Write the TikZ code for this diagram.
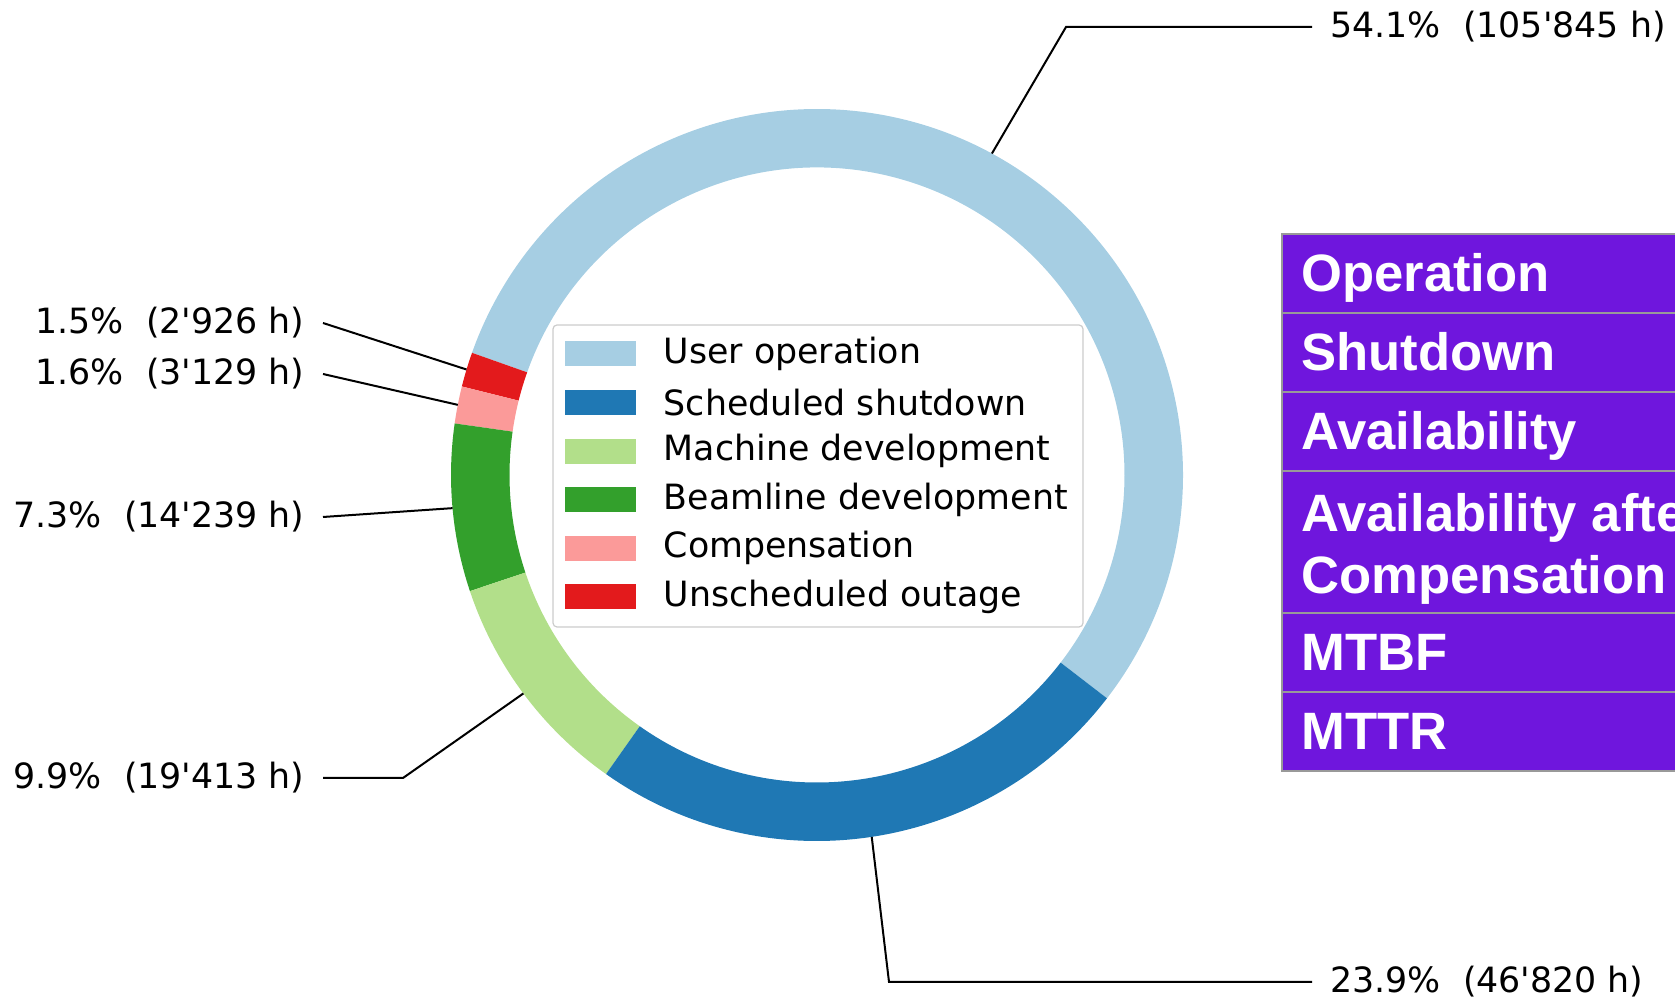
\documentclass[tikz,border=0pt]{standalone}
\usepackage{fontspec}
\usetikzlibrary{positioning}
\newfontfamily\lblfont{DejaVu Sans}[Ligatures=TeXOff]
\newfontfamily\tabfont{Liberation Sans}[Ligatures=TeXOff]
\definecolor{useop}{RGB}{166,206,227}
\definecolor{shutdn}{RGB}{31,120,180}
\definecolor{machdev}{RGB}{178,223,138}
\definecolor{beamdev}{RGB}{51,160,44}
\definecolor{comp}{RGB}{251,154,153}
\definecolor{outage}{RGB}{227,26,28}
\definecolor{tabpurple}{RGB}{111,22,221}
\tikzset{
  pctlabel/.style={font=\lblfont\fontsize{17.4}{21}\selectfont, inner xsep=9pt, inner ysep=2pt},
  leader/.style={line width=1pt, black},
  legbox/.style={draw=black!20, line width=0.6pt, rounded corners=2pt, fill=white},
  legpatch/.style={minimum width=35.5pt, minimum height=12.5pt, inner sep=0pt},
  legtext/.style={font=\lblfont\fontsize{17.4}{21}\selectfont, anchor=west, inner sep=0pt},
  tabrow/.style={fill=tabpurple, draw=black!40, line width=1pt},
  tabtext/.style={font=\tabfont\bfseries\fontsize{26.3}{31}\selectfont, text=white, anchor=base west, inner sep=0pt}
}

\begin{document}
\begin{tikzpicture}[x=0.5pt, y=0.5pt]
    \useasboundingbox (0,0) rectangle (1675,1000);
    \clip (0,0) rectangle (1675,1000);

    % ring
    \begin{scope}[shift={(817,525)}]
        \foreach \a/\b/\c in {-37.6/160.5/useop, 160.5/166.0/outage, 166.0/171.9/comp,
                              171.9/198.5/beamdev, 198.5/234.8/machdev, 234.8/322.4/shutdn}
            \fill[\c] (\a:366) arc[start angle=\a, end angle=\b, radius=366]
                -- (\b:307.5) arc[start angle=\b, end angle=\a, radius=307.5] -- cycle;
        \coordinate (pUse) at (61.45:366);
        \coordinate (pOut) at (163.25:366);
        \coordinate (pComp) at (168.95:366);
        \coordinate (pBeam) at (185.2:366);
        \coordinate (pMach) at (216.65:366);
        \coordinate (pShut) at (278.6:366);
    \end{scope}

    % labels
    \node[pctlabel, anchor=west] (lUse) at (1312,973) {54.1\%\ \ (105'845 h)};
    \node[pctlabel, anchor=east] (lOut) at (323,677) {1.5\%\ \ (2'926 h)};
    \node[pctlabel, anchor=east] (lComp) at (323,626) {1.6\%\ \ (3'129 h)};
    \node[pctlabel, anchor=east] (lBeam) at (323,483) {7.3\%\ \ (14'239 h)};
    \node[pctlabel, anchor=east] (lMach) at (323,222) {9.9\%\ \ (19'413 h)};
    \node[pctlabel, anchor=west] (lShut) at (1312,18) {23.9\%\ \ (46'820 h)};
    \coordinate (kUse) at (1066,973);
    \coordinate (kMach) at (403,222);
    \coordinate (kShut) at (889,18);
    \draw[leader] (lUse.west) -- (kUse) -- (pUse);
    \draw[leader] (lOut.east) -- (pOut);
    \draw[leader] (lComp.east) -- (pComp);
    \draw[leader] (lBeam.east) -- (pBeam);
    \draw[leader] (lMach.east) -- (kMach) -- (pMach);
    \draw[leader] (lShut.west) -- (kShut) -- (pShut);

    % legend
    \draw[legbox] (553,675) rectangle (1083,373);
    \foreach \c/\t [count=\i] in {useop/User operation, shutdn/Scheduled shutdown,
                                  machdev/Machine development, beamdev/Beamline development,
                                  comp/Compensation, outage/Unscheduled outage} {
        \node[legpatch, fill=\c] (patch\i) at (600.5,{694.6-48.6*\i}) {};
        \node[legtext, right=13.5pt of patch\i] (entry\i) {\t};
    }

    % table
    \foreach \t/\b in {766/687, 687/608, 608/529, 529/387, 387/308, 308/229}
        \draw[tabrow] (1282,\t) rectangle (1720,\b);
    \node[tabtext] (tOper) at (1301,708) {Operation};
    \node[tabtext] (tShut) at (1301,629) {Shutdown};
    \node[tabtext] (tAvail) at (1301,550) {Availability};
    \node[tabtext] (tAfter) at (1301,468.5) {Availability after};
    \node[tabtext] (tComp) at (1301,406.5) {Compensation};
    \node[tabtext] (tMtbf) at (1301,329) {MTBF};
    \node[tabtext] (tMttr) at (1301,250) {MTTR};
\end{tikzpicture}
\end{document}
